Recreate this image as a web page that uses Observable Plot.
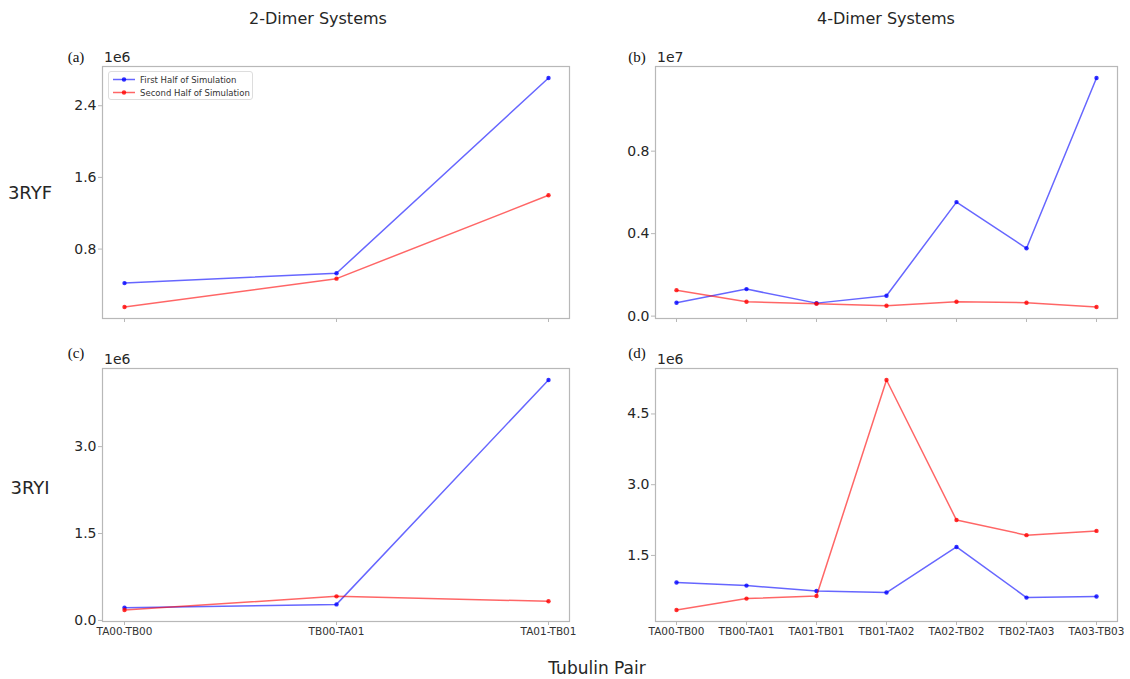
<!DOCTYPE html>
<html>
<head>
<meta charset="utf-8">
<script src="https://cdn.jsdelivr.net/npm/d3@7"></script>
<script src="https://cdn.jsdelivr.net/npm/@observablehq/plot@0.6"></script>
<style>
  body { margin: 0; background: #fff; }
  #wrap { position: relative; width: 1130px; height: 679px; overflow: hidden; font-family: "DejaVu Sans", sans-serif; color: #262626; }
  .abs { position: absolute; white-space: nowrap; }
  .panel { position: absolute; }
  .serif { font-family: "Liberation Serif", "DejaVu Serif", serif; }
</style>
</head>
<body>
<div id="wrap"></div>
<script>
// ---- data ----
const pairs2 = ["TA00-TB00", "TB00-TA01", "TA01-TB01"];
const pairs4 = ["TA00-TB00", "TB00-TA01", "TA01-TB01", "TB01-TA02", "TA02-TB02", "TB02-TA03", "TA03-TB03"];

const aFirst  = [0.42e6, 0.53e6, 2.71e6];
const aSecond = [0.153e6, 0.47e6, 1.40e6];
const bFirst  = [0.065e7, 0.131e7, 0.063e7, 0.099e7, 0.553e7, 0.329e7, 1.155e7];
const bSecond = [0.126e7, 0.070e7, 0.060e7, 0.050e7, 0.070e7, 0.065e7, 0.044e7];
const cFirst  = [0.22e6, 0.277e6, 4.15e6];
const cSecond = [0.18e6, 0.416e6, 0.33e6];
const dFirst  = [0.925e6, 0.86e6, 0.747e6, 0.713e6, 1.68e6, 0.606e6, 0.628e6];
const dSecond = [0.343e6, 0.585e6, 0.64e6, 5.22e6, 2.25e6, 1.93e6, 2.02e6];

const aTicks = [0.8e6, 1.6e6, 2.4e6];
const bTicks = [0, 0.4e7, 0.8e7];
const cTicks = [0, 1.5e6, 3.0e6];
const dTicks = [1.5e6, 3.0e6, 4.5e6];

const seriesNames = ["First Half of Simulation", "Second Half of Simulation"];
const seriesColors = ["#0000ff", "#ff0000"];

// ---- layout ----
const wrap = document.getElementById("wrap");
function addText(txt, left, top, size, opts = {}) {
  const d = document.createElement("div");
  d.className = "abs" + (opts.serif ? " serif" : "");
  d.textContent = txt;
  d.style.left = left + "px";
  d.style.top = top + "px";
  d.style.fontSize = size + "px";
  if (opts.center) d.style.transform = "translate(-50%, -50%)";
  if (opts.color) d.style.color = opts.color;
  wrap.appendChild(d);
  return d;
}

const mL = 60, mR = 10, mT = 10, mB = 30;

function panel(pairs, first, second, ticks, exp, frame, showX) {
  const rows = [];
  pairs.forEach((p, i) => {
    rows.push({pair: p, v: first[i], s: seriesNames[0]});
  });
  pairs.forEach((p, i) => {
    rows.push({pair: p, v: second[i], s: seriesNames[1]});
  });
  const all = first.concat(second);
  const lo = d3.min(all), hi = d3.max(all), r = hi - lo;
  const fw = frame.x1 - frame.x0, fh = frame.y1 - frame.y0;
  const n = pairs.length;
  const marks = [Plot.frame({stroke: "#b8b8b8", strokeWidth: 1.2})];
  seriesNames.forEach((s, k) => {
    const sub = rows.filter(d => d.s === s);
    marks.push(Plot.line(sub, {x: "pair", y: "v", stroke: seriesColors[k], strokeOpacity: 0.6, strokeWidth: 1.5}));
    marks.push(Plot.dot(sub, {x: "pair", y: "v", fill: seriesColors[k], fillOpacity: 0.8, r: 2.2}));
  });
  marks.push(Plot.axisY(ticks, {label: null, tickSize: 4, tickPadding: 2, stroke: "#b8b8b8", fill: "#262626", fontSize: 14,
    tickFormat: d => (d / exp).toFixed(1)}));
  marks.push(Plot.axisX(pairs, {label: null, tickSize: 4, tickPadding: 2, stroke: "#b8b8b8", fill: "#333", fontSize: 10.5,
    tickFormat: showX ? (d => d) : (() => "")}));
  const svg = Plot.plot({
    width: fw + mL + mR,
    height: fh + mT + mB,
    marginLeft: mL, marginRight: mR, marginTop: mT, marginBottom: mB,
    style: {background: "transparent", fontFamily: "DejaVu Sans, sans-serif", overflow: "visible"},
    x: {type: "point", domain: pairs, padding: 0.05 * (n - 1), align: 0.5, axis: null, label: null},
    y: {domain: [lo - 0.05 * r, hi + 0.05 * r], axis: null, label: null},
    marks
  });
  const holder = document.createElement("div");
  holder.className = "panel";
  holder.style.left = (frame.x0 - mL) + "px";
  holder.style.top = (frame.y0 - mT) + "px";
  holder.appendChild(svg);
  wrap.appendChild(holder);
}

panel(pairs2, aFirst, aSecond, aTicks, 1e6, {x0: 102, x1: 569, y0: 66, y1: 318}, false);
panel(pairs4, bFirst, bSecond, bTicks, 1e7, {x0: 655, x1: 1117, y0: 66, y1: 318}, false);
panel(pairs2, cFirst, cSecond, cTicks, 1e6, {x0: 102, x1: 569, y0: 368, y1: 621}, true);
panel(pairs4, dFirst, dSecond, dTicks, 1e6, {x0: 655, x1: 1117, y0: 368, y1: 621}, true);

// offset texts
addText("1e6", 104, 49, 14);
addText("1e7", 657, 49, 14);
addText("1e6", 104, 351, 14);
addText("1e6", 657, 351, 14);

// panel labels
addText("(a)", 76, 57, 15, {serif: true, center: true, color: "#111"});
addText("(b)", 637, 57, 15, {serif: true, center: true, color: "#111"});
addText("(c)", 76, 353, 15, {serif: true, center: true, color: "#111"});
addText("(d)", 637, 353, 15, {serif: true, center: true, color: "#111"});

// column titles, row labels, x title
addText("2-Dimer Systems", 318, 18, 16, {center: true});
addText("4-Dimer Systems", 886, 18, 16, {center: true});
addText("3RYF", 30, 192, 18, {center: true});
addText("3RYI", 30, 487, 18, {center: true});
addText("Tubulin Pair", 597, 668, 17, {center: true});

// legend (panel a)
const leg = document.createElement("div");
leg.className = "abs";
leg.style.cssText = "left:108px;top:71px;width:143px;height:27px;border:1px solid #ddd;border-radius:3px;background:rgba(255,255,255,0.8);font-size:8.5px;";
seriesNames.forEach((s, k) => {
  const row = document.createElement("div");
  row.style.cssText = `position:absolute;left:4px;top:${2 + k * 13}px;height:11px;display:flex;align-items:center;`;
  const sw = document.createElementNS("http://www.w3.org/2000/svg", "svg");
  sw.setAttribute("width", 22); sw.setAttribute("height", 11);
  sw.innerHTML = `<line x1="0" x2="22" y1="5.5" y2="5.5" stroke="${seriesColors[k]}" stroke-opacity="0.6" stroke-width="1.5"/><circle cx="11" cy="5.5" r="2.2" fill="${seriesColors[k]}" fill-opacity="0.8"/>`;
  row.appendChild(sw);
  const t = document.createElement("span");
  t.textContent = s;
  t.style.marginLeft = "5px";
  t.style.color = "#333";
  row.appendChild(t);
  leg.appendChild(row);
});
wrap.appendChild(leg);
</script>
</body>
</html>
